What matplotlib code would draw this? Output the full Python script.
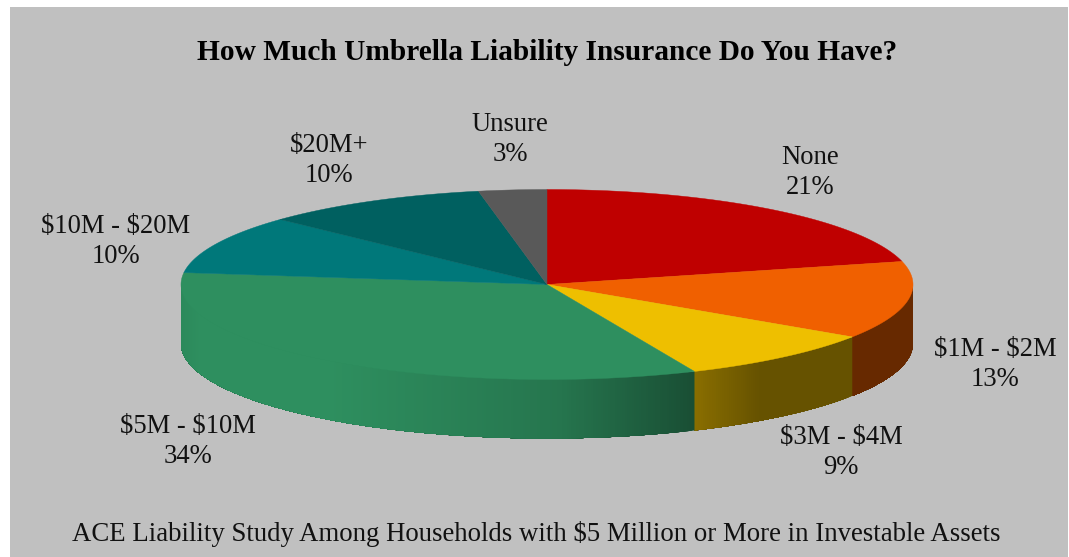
import numpy as np
import matplotlib
matplotlib.use("Agg")
import matplotlib.pyplot as plt
from matplotlib.patches import Rectangle

categories = ["None", "$1M - $2M", "$3M - $4M", "$5M - $10M", "$10M - $20M", "$20M+", "Unsure"]
values = [21.1, 13.2, 9.1, 33.6, 10.0, 10.0, 3.0]
colors = ["#BF0000", "#F06000", "#EEBF00", "#2E8F5F", "#00787A", "#006060", "#595959"]
label_pos = [(810, 172.5), (995, 364.5), (841, 452.5), (188, 441.5), (116, 241.5), (329, 160.5), (510, 139.5)]

W, H = 1069, 557
CX, CY, RX, RY, DEPTH = 547, 284.5, 366, 95, 59
BG = "#C0C0C0"

shade_x = [181, 200, 330, 560, 694, 694.01, 760, 913]
shade_f = [0.96, 1.0, 1.0, 0.82, 0.55, 0.58, 0.43, 0.43]

plt.rcParams["font.family"] = ["Liberation Serif", "DejaVu Serif"]
plt.rcParams["text.parse_math"] = False
fig = plt.figure(figsize=(W / 100, H / 100), dpi=100, facecolor="white")
ax = fig.add_axes([0, 0, 1, 1])
ax.set_xlim(0, W)
ax.set_ylim(H, 0)
ax.axis("off")
ax.add_patch(Rectangle((10, 7), 1058 - 0, H - 7, facecolor=BG, edgecolor="none", zorder=0))


def ex(t):
    return CX + RX * np.sin(t)


def ey(t):
    return CY - RY * np.cos(t)


edges = np.deg2rad(np.concatenate([[0], np.cumsum(values)]) * 3.6)
base = [np.array(matplotlib.colors.to_rgb(c)) for c in colors]

# side wall: only the part of each slice facing the viewer; facets overlap to hide seams
for i in range(len(values)):
    a0, a1 = max(edges[i], np.pi / 2), min(edges[i + 1], 3 * np.pi / 2)
    if a1 <= a0:
        continue
    ts = np.linspace(a0, a1, int((a1 - a0) * 150) + 2)
    for k in range(len(ts) - 1):
        t0, t1 = ts[k], ts[k + 1]
        tail = np.linspace(t0, a1, 60)
        f = np.interp(ex((t0 + t1) / 2), shade_x, shade_f)
        xs = np.r_[ex(tail), ex(tail[::-1])]
        ys = np.r_[ey(tail), ey(tail[::-1]) + DEPTH]
        ax.fill(xs, ys, color=base[i] * f, lw=0, zorder=2)

# top surface
for i in range(len(values)):
    ts = np.linspace(edges[i], edges[i + 1], 200)
    ax.fill(np.r_[CX, ex(ts)], np.r_[CY, ey(ts)], color=colors[i], lw=0.3, zorder=3)

for c, v, (x, y) in zip(categories, values, label_pos):
    ax.text(x, y, f"{c}\n{v:.0f}%", ha="center", va="center", fontsize=19.2, color="#111111",
            linespacing=1.31, zorder=4)

ax.text(547, 52, "How Much Umbrella Liability Insurance Do You Have?", ha="center", va="center",
        fontsize=21.2, fontweight="bold", color="black", zorder=4)
ax.text(536, 534, "ACE Liability Study Among Households with $5 Million or More in Investable Assets",
        ha="center", va="center", fontsize=19.25, color="#111111", zorder=4)

fig.savefig("out.png", dpi=100, facecolor="white")
